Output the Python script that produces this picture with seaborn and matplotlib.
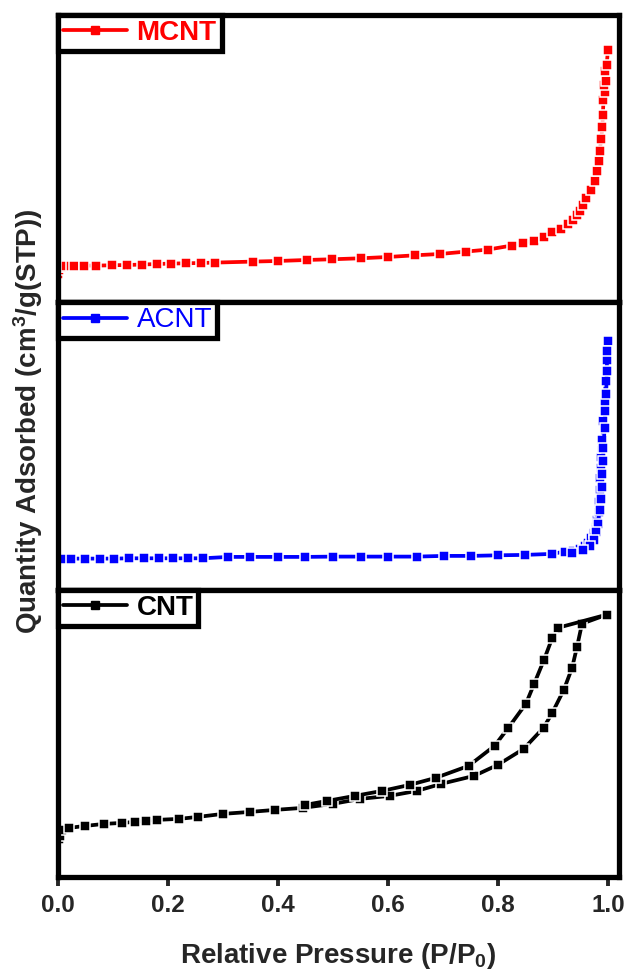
import matplotlib
matplotlib.use("Agg")
import matplotlib.pyplot as plt
import seaborn as sns
from matplotlib.lines import Line2D

# ---- N2 physisorption isotherms (quantity in arbitrary units per panel) ----
# MCNT
p_mcnt = [0.0005, 0.001, 0.003, 0.008, 0.015, 0.023, 0.03, 0.047, 0.07, 0.098,
          0.125, 0.152, 0.18, 0.206, 0.233, 0.26, 0.286, 0.355, 0.40, 0.452,
          0.498, 0.551, 0.60, 0.65, 0.695, 0.742, 0.782, 0.825, 0.845, 0.866,
          0.884, 0.899, 0.915, 0.928, 0.936, 0.943, 0.949, 0.955, 0.961, 0.969,
          0.976, 0.981, 0.984, 0.985, 0.988, 0.990, 0.991, 0.992, 0.995, 0.993,
          0.996, 0.995, 0.998, 1.0]
q_mcnt = [28, 32, 35, 35.5, 35.8, 36, 36.3, 36.7, 36.7, 37,
          37.3, 37.7, 38.3, 38.7, 39, 39.3, 39.7, 40.7, 41.3, 42.3,
          43, 44, 45.3, 47, 48.3, 50.7, 52.7, 56.7, 59, 61.7,
          65, 70, 73.3, 78.3, 82.7, 87.3, 91.7, 97.3, 104, 112.7,
          120.7, 130.7, 140.7, 150.7, 163.3, 175, 187, 202, 210, 217,
          221, 231, 237, 252]

# ACNT (adsorption and desorption branches)
p_acnt_ads = [0.0005, 0.003, 0.012, 0.023, 0.05, 0.076, 0.102, 0.129, 0.156, 0.183,
              0.21, 0.236, 0.263, 0.31, 0.35, 0.40, 0.45, 0.50, 0.551, 0.60,
              0.652, 0.702, 0.752, 0.80, 0.849, 0.898, 0.922, 0.936, 0.949, 0.958,
              0.964, 0.970, 0.975, 0.978, 0.981, 0.983, 0.984, 0.985, 0.986, 0.987,
              0.988, 0.989, 0.990, 0.992, 0.994, 0.996, 0.998, 1.0]
q_acnt_ads = [30, 30.7, 31, 31, 31, 31, 31, 31.3, 31.3, 31.3,
              31.3, 31.3, 31.3, 32.7, 32.7, 32.7, 32.7, 33, 33, 33,
              33, 33.7, 33.7, 34.3, 34.7, 35.7, 38, 38.7, 40.7, 44,
              46.3, 51.3, 56.3, 63, 69.7, 78, 88, 99.7, 111.3, 121.3,
              132, 141, 149.7, 168, 186, 208, 229, 248.7]
p_acnt_des = [1.0, 0.999, 0.998, 0.997, 0.995, 0.994, 0.992, 0.991, 0.990, 0.989,
              0.987, 0.985, 0.982, 0.979, 0.975, 0.968, 0.955, 0.935]
q_acnt_des = [248.7, 238, 218, 195, 178, 161, 141, 128, 116, 103,
              91, 80, 66, 58, 50, 44, 40, 37]

# CNT (type IV loop)
p_cnt_ads = [0.001, 0.003, 0.007, 0.02, 0.05, 0.084, 0.117, 0.14, 0.16, 0.18,
             0.22, 0.255, 0.30, 0.35, 0.395, 0.445, 0.50, 0.55, 0.603, 0.653,
             0.697, 0.757, 0.80, 0.847, 0.883, 0.899, 0.920, 0.935, 0.944, 0.953,
             0.998]
q_cnt_ads = [38, 41, 47, 49, 51, 53, 54, 55, 56, 57,
             58, 60, 63, 65, 67, 69, 73, 78, 81, 86,
             93, 101, 112, 128, 149, 164, 187, 209, 230, 253,
             262]
p_cnt_des = [0.998, 0.91, 0.899, 0.884, 0.866, 0.851, 0.819, 0.794, 0.747, 0.687,
             0.64, 0.59, 0.54, 0.49, 0.45]
q_cnt_des = [262, 249, 239, 217, 193, 173, 149, 131, 111, 99,
             92, 86, 81, 76, 72]

x_ticks = [0.0, 0.2, 0.4, 0.6, 0.8, 1.0]
x_tick_labels = ["0.0", "0.2", "0.4", "0.6", "0.8", "1.0"]

sns.set_style("ticks")
plt.rcParams["font.family"] = ["Liberation Sans", "DejaVu Sans"]
plt.rcParams["mathtext.fontset"] = "custom"
plt.rcParams["mathtext.rm"] = "Liberation Sans"
plt.rcParams["mathtext.bf"] = "Liberation Sans:bold"
plt.rcParams["mathtext.default"] = "bf"

fig, axes = plt.subplots(3, 1, figsize=(6.27, 9.69), dpi=100, sharex=True)
fig.subplots_adjust(left=0.0925, right=0.987, top=0.9845, bottom=0.095, hspace=0)

LW = 2.7
MS = 6.6
SPINE = 3.8

panels = [
    ("MCNT", "#ff0000", "bold", [(p_mcnt, q_mcnt)]),
    ("ACNT", "#0000ff", "normal", [(p_acnt_ads, q_acnt_ads), (p_acnt_des, q_acnt_des)]),
    ("CNT", "#000000", "bold", [(p_cnt_ads, q_cnt_ads), (p_cnt_des, q_cnt_des)]),
]

for ax, (name, color, weight, branches) in zip(axes, panels):
    for px, qy in branches:
        sns.lineplot(x=px, y=qy, ax=ax, sort=False, estimator=None, color=color,
                     lw=LW, marker="s", markersize=MS, markeredgecolor="white",
                     markeredgewidth=1.1, legend=False)
    ax.set_xlim(0, 1.02)
    ax.set_ylim(0, 287)
    ax.set_yticks([])
    ax.set_ylabel("")
    for s in ax.spines.values():
        s.set_linewidth(SPINE)
        s.set_color("black")
        s.set_visible(True)
    handle = Line2D([], [], color=color, lw=LW, marker="s", markersize=MS - 1,
                    markeredgecolor=color)
    leg = ax.legend([handle], [name], loc="upper left", borderaxespad=0,
                    frameon=True, fancybox=False, edgecolor="black", framealpha=1,
                    prop=dict(weight=weight, size=20), handlelength=2.3,
                    handletextpad=0.35, borderpad=0.18, labelcolor=color)
    leg.get_frame().set_linewidth(SPINE)
    leg.set_zorder(10)

for ax in axes[:2]:
    ax.tick_params(axis="x", bottom=False, labelbottom=False)

bottom = axes[2]
bottom.set_xticks(x_ticks)
bottom.set_xticklabels(x_tick_labels)
bottom.tick_params(axis="x", direction="out", length=6.5, width=2.8, pad=6,
                   labelsize=17.5, bottom=True, labelbottom=True)
for lab in bottom.get_xticklabels():
    lab.set_fontweight("bold")
bottom.set_xlabel("Relative Pressure (P/P$_0$)", fontsize=20, fontweight="bold",
                  labelpad=17)

fig.text(0.045, 0.5655, "Quantity Adsorbed (cm$^3$/g(STP))", rotation=90,
         ha="center", va="center", fontsize=20, fontweight="bold")

fig.savefig("out.png", dpi=100)
